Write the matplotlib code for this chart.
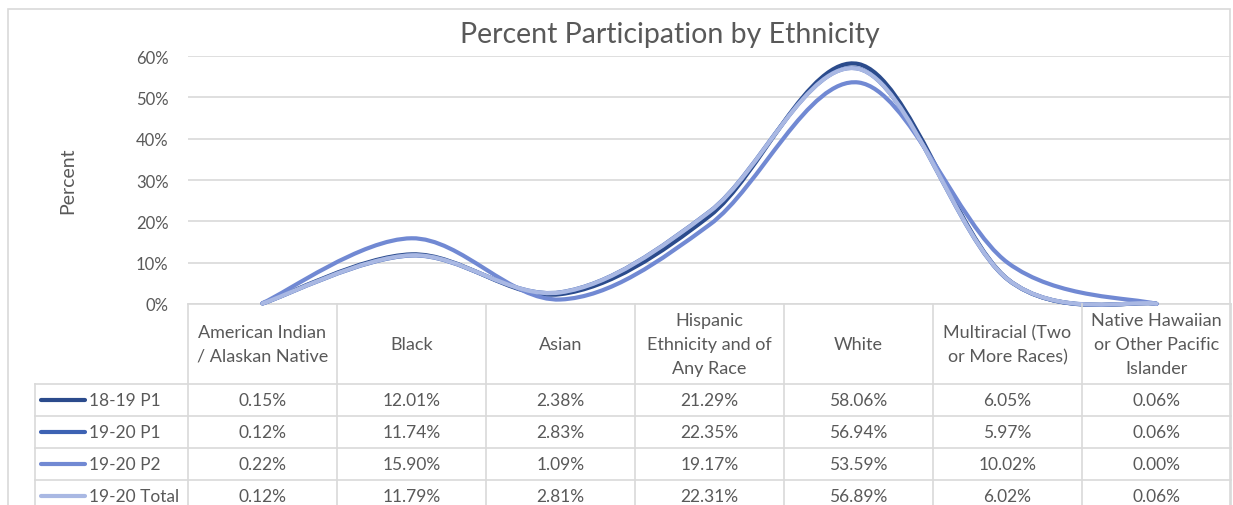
import matplotlib
matplotlib.use("Agg")
import matplotlib.pyplot as plt
from matplotlib.path import Path
from matplotlib.patches import PathPatch, Rectangle
from matplotlib.lines import Line2D

plt.rcParams['font.family'] = ['Lato', 'DejaVu Sans']

categories = ["American Indian\n/ Alaskan Native", "Black", "Asian",
              "Hispanic\nEthnicity and of\nAny Race", "White",
              "Multiracial (Two\nor More Races)", "Native Hawaiian\nor Other Pacific\nIslander"]
series_names = ["18-19 P1", "19-20 P1", "19-20 P2", "19-20 Total"]
s_1819_p1 = [0.15, 12.01, 2.38, 21.29, 58.06, 6.05, 0.06]
s_1920_p1 = [0.12, 11.74, 2.83, 22.35, 56.94, 5.97, 0.06]
s_1920_p2 = [0.22, 15.90, 1.09, 19.17, 53.59, 10.02, 0.00]
s_1920_tot = [0.12, 11.79, 2.81, 22.31, 56.89, 6.02, 0.06]
series_values = [s_1819_p1, s_1920_p1, s_1920_p2, s_1920_tot]
yticks = [0, 10, 20, 30, 40, 50, 60]
colors = ['#2B4B8C', '#3D62B3', '#7189D3', '#A9B8E3']

W, H = 1233, 506
fig = plt.figure(figsize=(W / 100, H / 100), dpi=100)

def fx(x):
    return x / W

def fy(y):
    return 1 - y / H

grid_c = '#D9D9D9'
text_c = '#595959'

# outer chart border
fig.add_artist(Rectangle((fx(8), fy(520)), fx(1230) - fx(8), fy(10) - fy(520),
                         transform=fig.transFigure, fill=False, edgecolor=grid_c, lw=1.2))

ax = fig.add_axes([fx(188), fy(305), fx(1231) - fx(188), fy(57) - fy(305)])
n = len(categories)
ax.set_xlim(-0.5, n - 0.5)
ax.set_ylim(0, 60)
ax.set_yticks(yticks)
ax.set_yticklabels([f"{t}%" for t in yticks], color=text_c, fontsize=12)
ax.tick_params(axis='y', length=0, pad=14)
ax.set_xticks([])
ax.grid(axis='y', color=grid_c, lw=1.2)
ax.set_axisbelow(True)
for sp in ax.spines.values():
    sp.set_visible(False)
ax.spines['bottom'].set_visible(True)
ax.spines['bottom'].set_color(grid_c)
ax.spines['bottom'].set_linewidth(1.2)
ax.patch.set_alpha(0)

def smooth_path(xs, ys):
    verts = [(xs[0], ys[0])]
    codes = [Path.MOVETO]
    m = len(xs)
    for i in range(m - 1):
        p0 = (xs[max(i - 1, 0)], ys[max(i - 1, 0)])
        p1 = (xs[i], ys[i])
        p2 = (xs[i + 1], ys[i + 1])
        p3 = (xs[min(i + 2, m - 1)], ys[min(i + 2, m - 1)])
        c1 = (p1[0] + (p2[0] - p0[0]) / 6, p1[1] + (p2[1] - p0[1]) / 6)
        c2 = (p2[0] - (p3[0] - p1[0]) / 6, p2[1] - (p3[1] - p1[1]) / 6)
        verts += [c1, c2, p2]
        codes += [Path.CURVE4] * 3
    return Path(verts, codes)

xs = list(range(n))
for k, (vals, c) in enumerate(zip(series_values, colors)):
    patch = PathPatch(smooth_path(xs, vals), facecolor='none', edgecolor=c,
                      lw=3.0, capstyle='round', joinstyle='round', zorder=3 + k)
    patch.set_clip_on(False)
    ax.add_patch(patch)

ax.set_ylabel("Percent", color=text_c, fontsize=14, labelpad=43)

fig.text(fx(670), fy(35), "Percent Participation by Ethnicity", ha='center', va='center',
         fontsize=20.5, color=text_c)

# data table in pixel coordinates
tb = fig.add_axes([0, 0, 1, 1])
tb.set_xlim(0, W)
tb.set_ylim(H, 0)
tb.axis('off')
tb.patch.set_alpha(0)

def px(xval):
    disp = ax.transData.transform((xval, 0))
    return tb.transData.inverted().transform(disp)[0]

bounds = [px(i - 0.5) for i in range(n + 1)]
header_top, header_bot = 305, 385
row_h = 32
row_tops = [header_bot + r * row_h for r in range(len(series_names) + 1)]
leg_left = 35

for b in bounds:
    tb.plot([b, b], [header_top, H + 20], color=grid_c, lw=1.2, clip_on=False)
tb.plot([leg_left, leg_left], [header_bot, H + 20], color=grid_c, lw=1.2)
for yv in row_tops:
    tb.plot([leg_left, bounds[-1]], [yv, yv], color=grid_c, lw=1.2)

for i, cat in enumerate(categories):
    cx = (bounds[i] + bounds[i + 1]) / 2
    tb.text(cx, (header_top + header_bot) / 2, cat, ha='center', va='center',
            fontsize=13, color=text_c, linespacing=1.6)

for r, (name, vals, c) in enumerate(zip(series_names, series_values, colors)):
    cy = row_tops[r] + row_h / 2
    tb.add_line(Line2D([leg_left + 6, leg_left + 50], [cy, cy], color=c, lw=3.0,
                       solid_capstyle='round'))
    tb.text(leg_left + 54, cy, name, ha='left', va='center', fontsize=12.5, color=text_c)
    for i, v in enumerate(vals):
        cx = (bounds[i] + bounds[i + 1]) / 2
        tb.text(cx, cy, f"{v:.2f}%", ha='center', va='center', fontsize=12.5, color=text_c)

fig.savefig("out.png", dpi=100)
